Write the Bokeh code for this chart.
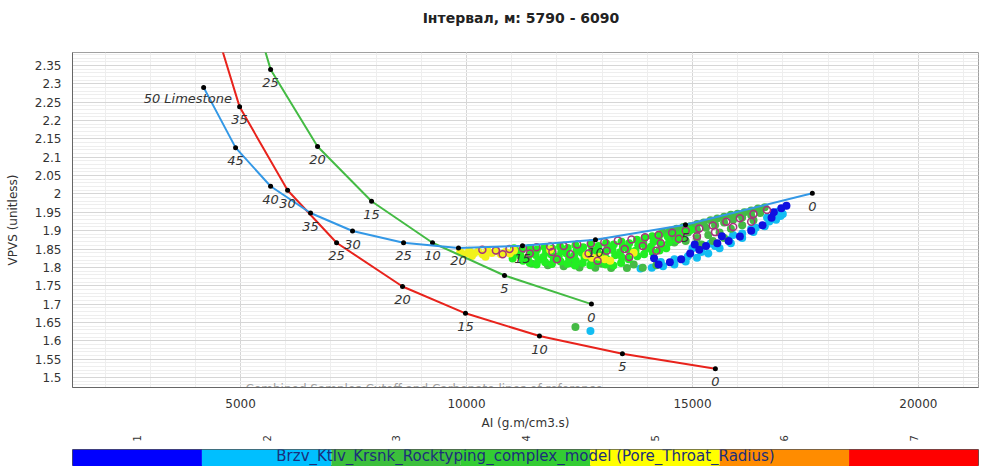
import numpy as np
from bokeh.plotting import figure
from bokeh.layouts import column
from bokeh.models import FixedTicker, CustomJSTickFormatter, Range1d
from bokeh.core.properties import value
from bokeh.embed import file_html
from bokeh.resources import INLINE

FONT = "DejaVu Sans"

title_text = "Інтервал, м: 5790 - 6090"

# ---- Rock-physics template lines (porosity %, AI, VPVS) ----
lime_phi = [50, 45, 40, 35, 30, 25, 20, 15, 10, 5, 0]
lime_ai = [4182, 4889, 5664, 6548, 7477, 8606, 9822, 11238, 12853, 14845, 17653]
lime_vpvs = [2.290, 2.126, 2.021, 1.948, 1.899, 1.867, 1.853, 1.859, 1.875, 1.916, 2.002]
lime_name = "Limestone"

# the first node of these two lines lies above the plotted VPVS range
dolo_phi = [40, 35, 30, 25, 20, 15, 10, 5, 0]
dolo_ai = [4200, 4978, 6040, 7124, 8583, 9977, 11614, 13450, 15507]
dolo_vpvs = [2.55, 2.237, 2.010, 1.867, 1.748, 1.675, 1.613, 1.565, 1.524]

sand_phi = [30, 25, 20, 15, 10, 5, 0]
sand_ai = [5180, 5664, 6703, 7898, 9247, 10840, 12764]
sand_vpvs = [2.54, 2.339, 2.129, 1.980, 1.867, 1.778, 1.700]

# ---- Samples by rock type (Pore_Throat_Radius class), (AI, VPVS) ----
rt5_pts = [(9860, 1.842), (9960, 1.836), (10060, 1.845), (10160, 1.838), (10260, 1.843),
           (10360, 1.835), (10460, 1.846), (10560, 1.839), (10660, 1.844), (10760, 1.836),
           (10860, 1.842), (10960, 1.838), (10120, 1.831), (10420, 1.829), (11050, 1.846),
           (12650, 1.833), (12780, 1.826), (12930, 1.829), (13060, 1.822), (13180, 1.818),
           (11850, 1.848), (13700, 1.840)]

rt4_pts = [(11050, 1.852), (11080, 1.838), (11020, 1.824),
           (11220, 1.847), (11190, 1.832), (11250, 1.818),
           (11390, 1.853), (11420, 1.840), (11360, 1.826), (11400, 1.812),
           (11560, 1.849), (11530, 1.834), (11590, 1.820), (11550, 1.808),
           (11730, 1.855), (11760, 1.842), (11700, 1.828), (11740, 1.814),
           (11900, 1.851), (11870, 1.836), (11930, 1.822), (11890, 1.809),
           (12070, 1.857), (12100, 1.844), (12040, 1.830), (12080, 1.816),
           (12240, 1.853), (12210, 1.838), (12270, 1.824), (12230, 1.810),
           (12410, 1.860), (12440, 1.846), (12380, 1.832), (12420, 1.818), (12400, 1.805),
           (12580, 1.855), (12550, 1.840), (12610, 1.826), (12570, 1.812),
           (12750, 1.862), (12780, 1.848), (12720, 1.834), (12760, 1.820), (12740, 1.806),
           (12920, 1.858), (12890, 1.843), (12950, 1.829), (12910, 1.815),
           (13090, 1.866), (13120, 1.852), (13060, 1.837), (13100, 1.823), (13080, 1.808),
           (13260, 1.862), (13230, 1.847), (13290, 1.833), (13250, 1.805),
           (13430, 1.870), (13460, 1.856), (13400, 1.841), (13440, 1.827), (13420, 1.812),
           (13600, 1.866), (13570, 1.851), (13630, 1.837), (13590, 1.822),
           (13770, 1.875), (13800, 1.860), (13740, 1.845), (13780, 1.830),
           (13940, 1.880), (13910, 1.866), (13970, 1.851), (13930, 1.836),
           (14110, 1.885), (14140, 1.870), (14080, 1.856), (14120, 1.841),
           (14280, 1.890), (14250, 1.876), (14310, 1.861), (14270, 1.846),
           (14450, 1.884), (14480, 1.868), (14420, 1.852),
           (14620, 1.890), (14650, 1.874),
           (14790, 1.896), (14760, 1.881),
           (14960, 1.902)]

rt3_pts = [(14350, 1.895), (14500, 1.900), (14650, 1.905), (14800, 1.910), (14950, 1.912),
           (15100, 1.918), (15250, 1.922), (15400, 1.928), (15550, 1.933), (15700, 1.938),
           (15850, 1.943), (16000, 1.946), (16150, 1.950), (16300, 1.955), (16450, 1.960),
           (16600, 1.964),
           (14500, 1.885), (14700, 1.890), (14900, 1.895), (15100, 1.902), (15300, 1.908),
           (15500, 1.915), (15700, 1.922), (15900, 1.930), (16100, 1.936), (16300, 1.942),
           (16500, 1.948),
           (14600, 1.868), (14850, 1.872), (15100, 1.880), (15350, 1.888), (15600, 1.895),
           (15850, 1.905), (16100, 1.915), (16350, 1.928),
           (15200, 1.862), (15450, 1.872), (15700, 1.880),
           (11450, 1.810), (11800, 1.806), (12150, 1.803), (12500, 1.800), (12850, 1.799),
           (13200, 1.798), (13550, 1.798), (13900, 1.799), (14200, 1.806), (12300, 1.812),
           (13000, 1.810), (13700, 1.808),
           (12410, 1.638)]

rt2_pts = [(13850, 1.797), (14100, 1.799), (14350, 1.803), (14600, 1.808), (14850, 1.816),
           (15100, 1.826), (15350, 1.838), (15600, 1.852), (15850, 1.866), (16100, 1.880),
           (16350, 1.896), (16600, 1.912), (16850, 1.930), (17000, 1.945),
           (14300, 1.815), (14600, 1.822), (14900, 1.830), (15200, 1.842), (15500, 1.858),
           (15800, 1.875), (16100, 1.892), (16400, 1.908), (16700, 1.925), (16950, 1.940),
           (15000, 1.852), (15400, 1.865), (15900, 1.888), (16300, 1.905), (16650, 1.936),
           (16900, 1.952),
           (12742, 1.627)]

rt1_pts = [(14250, 1.808), (14500, 1.814), (14750, 1.822), (14950, 1.838), (15150, 1.848),
           (15300, 1.858), (15550, 1.866), (15800, 1.872), (16050, 1.884), (16300, 1.900),
           (16550, 1.915), (16750, 1.935), (16800, 1.950), (16966, 1.961), (17080, 1.968),
           (15050, 1.862), (15650, 1.885), (14150, 1.825)]

# samples outside the class palette (open markers)
other_pts = [(10350, 1.848), (10650, 1.846), (10950, 1.850), (11250, 1.852), (11550, 1.855),
             (11850, 1.857), (12150, 1.858), (12450, 1.862), (12750, 1.865), (13050, 1.869),
             (13350, 1.873), (13650, 1.876), (13950, 1.882), (14250, 1.888), (14550, 1.894),
             (14850, 1.900), (15150, 1.906), (15450, 1.914), (15750, 1.924), (16050, 1.934),
             (16350, 1.945), (16650, 1.956),
             (11400, 1.838), (11900, 1.842), (12300, 1.836), (12700, 1.838), (13100, 1.845),
             (13500, 1.850), (13900, 1.858), (14300, 1.866), (14700, 1.878), (15100, 1.885),
             (15500, 1.896), (15900, 1.910), (16300, 1.924),
             (12000, 1.822), (12900, 1.818), (13600, 1.828), (14200, 1.845), (10800, 1.836)]

# ---- Colour scale ----
class_ids = [1, 2, 3, 4, 5, 6, 7]
class_colors = ["#0000ff", "#00bfff", "#3cbf3c", "#33cc33", "#ffff00", "#ff8c00", "#ff0000"]
scale_title = "Brzv_Ktlv_Krsnk_Rocktyping_complex_model (Pore_Throat_Radius)"

x_ticks = [5000, 10000, 15000, 20000]
y_ticks = [1.5, 1.55, 1.6, 1.65, 1.7, 1.75, 1.8, 1.85, 1.9, 1.95, 2.0,
           2.05, 2.1, 2.15, 2.2, 2.25, 2.3, 2.35]

# ---- title strip ----
head = figure(width=986, height=30, x_range=Range1d(0, 1), y_range=Range1d(0, 30),
              output_backend="svg", toolbar_location=None,
              x_axis_location=None, y_axis_location=None,
              min_border_left=72, min_border_right=8, min_border_top=0, min_border_bottom=0)
head.grid.visible = False
head.outline_line_color = None
head.text(x=[0.495], y=[13], text=[title_text], text_font=value(FONT), text_font_size="14px",
          text_font_style="bold", text_color="#222222", text_align="center",
          text_baseline="middle")

# ---- main cross-plot ----
p = figure(width=986, height=402,
           x_range=Range1d(1280, 21330), y_range=Range1d(1.473, 2.385),
           output_backend="svg", toolbar_location=None,
           min_border_left=72, min_border_right=8, min_border_top=22, min_border_bottom=42)

p.outline_line_color = "#a0a0a0"
p.background_fill_color = "white"

p.xaxis.ticker = FixedTicker(ticks=x_ticks, minor_ticks=list(range(2000, 22000, 1000)))
p.yaxis.ticker = FixedTicker(ticks=y_ticks, minor_ticks=list(np.round(np.arange(1.47, 2.39, 0.01), 2)))
p.yaxis.formatter = CustomJSTickFormatter(code="return String(Math.round(tick*100)/100);")

for ax in (p.xaxis[0], p.yaxis[0]):
    ax.major_label_text_font = FONT
    ax.major_label_text_font_size = "12px"
    ax.major_label_text_color = "#333333"
    ax.axis_label_text_font = FONT
    ax.axis_label_text_font_size = "12px"
    ax.axis_label_text_font_style = "normal"
    ax.axis_label_text_color = "#333333"
    ax.axis_line_color = "#666666"
    ax.major_tick_line_color = None
    ax.minor_tick_line_color = None

p.xaxis.axis_label = "AI (g.m/cm3.s)"
p.yaxis.axis_label = "VPVS (unitless)"
p.yaxis.axis_label_standoff = 12

p.grid.grid_line_color = "#d6d6d6"
p.grid.minor_grid_line_color = "#eeeeee"

# faint footnote running under the lower frame edge
p.text(x=[5110], y=[1.487], text=["Combined Samples Cutoff and Carbonate lines of reference"],
       text_font=value(FONT), text_font_size="12px", text_color="#a0a0a0",
       text_baseline="top", text_align="left")


def unzip(pts):
    return [a for a, _ in pts], [v for _, v in pts]


# samples
for pts, fill in ((rt2_pts, "#12bdf2"), (rt3_pts, "#45ba45"), (rt4_pts, "#22ee22"),
                  (rt5_pts, "#f2f21a"), (rt1_pts, "#1010e0")):
    xs, ys = unzip(pts)
    p.scatter(xs, ys, size=8, fill_color=fill, line_color=None)
ox, oy = unzip(other_pts)
p.scatter(ox, oy, size=7, fill_color=None, line_color="#a8307e", line_width=1.5)

# template lines with porosity nodes
label_style = dict(text_font=value(FONT), text_font_size="13px", text_font_style="italic",
                   text_color="#333333", text_align="center", text_baseline="middle")

for ai, vp, col in ((sand_ai, sand_vpvs, "#44bb44"),
                    (dolo_ai, dolo_vpvs, "#e8231c"),
                    (lime_ai, lime_vpvs, "#3398e6")):
    p.line(ai, vp, line_color=col, line_width=2)
    p.scatter(ai, vp, size=5, fill_color="black", line_color=None)

# node labels (only for nodes inside the plotted range)
p.text(sand_ai[1:], sand_vpvs[1:], text=[str(v) for v in sand_phi[1:]], y_offset=13, **label_style)
p.text(dolo_ai[1:], dolo_vpvs[1:], text=[str(v) for v in dolo_phi[1:]], y_offset=13, **label_style)
p.text(lime_ai[1:], lime_vpvs[1:], text=[str(v) for v in lime_phi[1:]], y_offset=13, **label_style)
lime_first = dict(label_style, text_align="left")
p.text(lime_ai[:1], lime_vpvs[:1], text=[f"{lime_phi[0]} {lime_name}"],
       x_offset=-60, y_offset=11, **lime_first)

# ---- colour scale strip ----
cb = figure(width=986, height=34, x_range=Range1d(0.5, 7.5), y_range=Range1d(0, 1),
            output_backend="svg", toolbar_location=None,
            x_axis_location="above", y_axis_location=None,
            min_border_left=71, min_border_right=8, min_border_top=16, min_border_bottom=0)
cb.grid.visible = False
cb.outline_line_color = "#555555"
cb.quad(left=[c - 0.5 for c in class_ids], right=[c + 0.5 for c in class_ids],
        bottom=0, top=1, fill_color=class_colors, line_color=None)
cb.text(x=[np.mean(class_ids)], y=[0.62], text=[scale_title],
        text_font=value(FONT), text_font_size="15px", text_color="#1c2f7a",
        text_align="center", text_baseline="middle")
cb.xaxis.ticker = FixedTicker(ticks=class_ids)
cb.xaxis.major_label_orientation = "vertical"
cb.xaxis.major_label_text_font = FONT
cb.xaxis.major_label_text_font_size = "10px"
cb.xaxis.major_label_text_color = "#333333"
cb.xaxis.major_label_standoff = 2
cb.xaxis.axis_line_color = None
cb.xaxis.major_tick_line_color = None
cb.xaxis.minor_tick_line_color = None

layout = column(head, p, cb, spacing=0)
open("out.html", "w").write(file_html(layout, INLINE))
